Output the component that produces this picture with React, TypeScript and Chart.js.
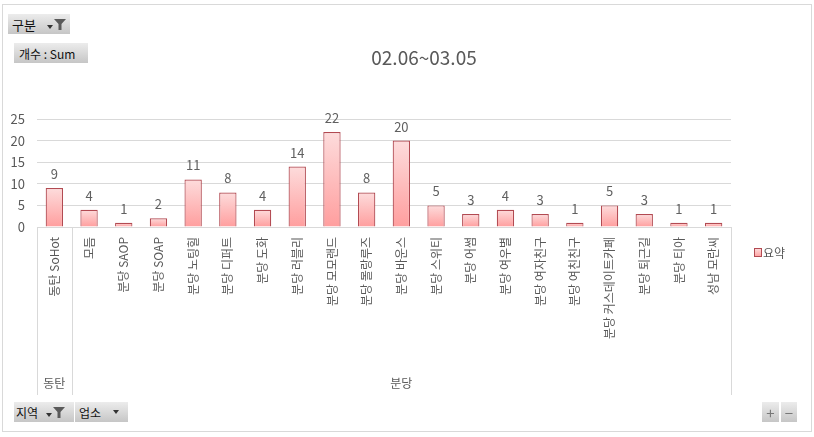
import React, { useEffect, useRef } from "react";
import { Chart, registerables } from "chart.js";

Chart.register(...registerables);

const title = "02.06~03.05";
const categories = [
  "동탄 SoHot", "모듬", "분당 SAOP", "분당 SOAP", "분당 노팅힐", "분당 디퍼트", "분당 도화",
  "분당 러블리", "분당 모모랜드", "분당 몰랑루즈", "분당 바운스", "분당 스위티", "분당 어썸",
  "분당 여우별", "분당 여자친구", "분당 여친친구", "분당 커스데이트카페", "분당 퇴근길", "분당 티아", "성남 모란씨",
];
const values = [9, 4, 1, 2, 11, 8, 4, 14, 22, 8, 20, 5, 3, 4, 3, 1, 5, 3, 1, 1];
const groups = ["동탄", "분당"];
const groupSizes = [1, 19];
const seriesName = "요약";
const yTicks = [0, 5, 10, 15, 20, 25];

const FONT = "'Noto Sans CJK KR', 'Noto Sans', sans-serif";
const TEXT = "#595959";
const GRID = "#d9d9d9";
const BORDER = "#b24a52";

const extras = {
  id: "extras",
  afterDatasetsDraw(chart: any) {
    const { ctx, chartArea } = chart;
    const meta = chart.getDatasetMeta(0);
    ctx.save();
    ctx.fillStyle = "#606060";
    ctx.font = `13px ${FONT}`;
    ctx.textAlign = "center";
    ctx.textBaseline = "alphabetic";
    meta.data.forEach((bar: any, i: number) => {
      ctx.fillText(String(values[i]), bar.x, bar.y - 9);
    });
    // title
    ctx.fillStyle = TEXT;
    ctx.font = `19px ${FONT}`;
    ctx.textBaseline = "middle";
    ctx.fillText(title, 424, 58);
    // group box lines
    const xs = chart.scales.x;
    ctx.strokeStyle = GRID;
    ctx.lineWidth = 1;
    const bounds: number[] = [chartArea.left];
    let idx = 0;
    groupSizes.forEach((n) => {
      idx += n;
      if (idx < categories.length) {
        bounds.push((xs.getPixelForTick(idx - 1) + xs.getPixelForTick(idx)) / 2);
      } else {
        bounds.push(chartArea.right);
      }
    });
    ctx.beginPath();
    bounds.forEach((b) => {
      const x = Math.round(b) + 0.5;
      ctx.moveTo(x, chartArea.bottom);
      ctx.lineTo(x, 395);
    });
    ctx.stroke();
    ctx.font = `12px ${FONT}`;
    ctx.fillStyle = TEXT;
    groups.forEach((g, i) => {
      ctx.fillText(g, (bounds[i] + bounds[i + 1]) / 2, 383);
    });
    // legend
    const lg = ctx.createLinearGradient(0, 249, 0, 257);
    lg.addColorStop(0, "#fdd8d8");
    lg.addColorStop(1, "#ff9f9f");
    ctx.fillStyle = lg;
    ctx.fillRect(754.5, 248.5, 7, 8);
    ctx.strokeStyle = BORDER;
    ctx.strokeRect(754.5, 248.5, 7, 8);
    ctx.fillStyle = TEXT;
    ctx.textAlign = "left";
    ctx.font = `12px ${FONT}`;
    ctx.fillText(seriesName, 763, 253);
    // frame
    ctx.strokeStyle = GRID;
    ctx.strokeRect(2.5, 4.5, 809, 427);
    ctx.restore();
  },
};

function barFill(c: any) {
  const chart = c.chart;
  const y = chart.scales && chart.scales.y;
  if (!chart.chartArea || !y || c.raw === undefined) return "#ffc0c0";
  const top = y.getPixelForValue(c.raw);
  const bottom = y.getPixelForValue(0);
  if (!isFinite(top) || !isFinite(bottom) || bottom - top < 1) return "#ffb0b0";
  const g = chart.ctx.createLinearGradient(0, top, 0, bottom);
  g.addColorStop(0, "#fddcdc");
  g.addColorStop(1, "#ff9e9e");
  return g;
}

const Funnel = () => (
  <svg width="12" height="12" viewBox="0 0 12 12" style={{ display: "block" }}>
    <polygon points="0,1 12,1 7.5,6 7.5,12 4.5,12 4.5,6" fill="#5a5a5a" />
  </svg>
);
const Arrow = () => (
  <svg width="6" height="4" viewBox="0 0 6 4" style={{ display: "block" }}>
    <polygon points="0,0 6,0 3,4" fill="#333" />
  </svg>
);

const btn = (left: number, top: number, width: number, height = 20): React.CSSProperties => ({
  position: "absolute",
  left,
  top,
  width,
  height,
  background: "linear-gradient(#ececec, #c6c6c6)",
  fontFamily: FONT,
  fontSize: 12,
  color: "#111",
  display: "flex",
  alignItems: "center",
  boxSizing: "border-box",
  whiteSpace: "nowrap",
});

export default function App() {
  const ref = useRef<HTMLCanvasElement>(null);
  useEffect(() => {
    document.body.style.margin = "0";
    const chart = new Chart(ref.current!, {
      type: "bar",
      data: {
        labels: categories,
        datasets: [
          {
            label: seriesName,
            data: values,
            backgroundColor: barFill as any,
            borderColor: BORDER,
            borderWidth: 1.2,
            categoryPercentage: 1,
            barPercentage: 0.5,
          },
        ],
      },
      options: {
        responsive: false,
        animation: false,
        layout: { padding: { left: 0, right: 83, top: 119, bottom: 42 } },
        plugins: { legend: { display: false }, title: { display: false }, tooltip: { enabled: false } },
        scales: {
          x: {
            grid: { display: false, drawTicks: false },
            border: { display: false },
            ticks: {
              autoSkip: false,
              minRotation: 90,
              maxRotation: 90,
              padding: 10,
              color: TEXT,
              font: { family: FONT, size: 12 },
            },
            afterFit(s: any) {
              s.height = 168;
            },
          },
          y: {
            min: 0,
            max: 25,
            grid: { color: GRID, drawTicks: false },
            border: { display: false },
            ticks: {
              stepSize: 5,
              padding: 12,
              color: TEXT,
              font: { family: FONT, size: 13 },
              callback: (v: any) => (yTicks.includes(v) ? String(v) : ""),
            },
            afterFit(s: any) {
              s.width = 37;
            },
          },
        },
      },
      plugins: [extras],
    });
    return () => chart.destroy();
  }, []);

  return (
    <div style={{ position: "fixed", left: 0, top: 0, width: 814, height: 437, background: "#fff" }}>
      <canvas ref={ref} width={814} height={437} style={{ position: "absolute", left: 0, top: 0 }} />
      <div style={{ ...btn(8, 14, 62), fontSize: 13, paddingLeft: 4 }}>
        <span>구분</span>
        <span style={{ marginLeft: 11, marginTop: 6 }}><Arrow /></span>
        <span style={{ marginLeft: 1 }}><Funnel /></span>
      </div>
      <div style={{ ...btn(14, 43, 74), paddingLeft: 5 }}>개수 : Sum</div>
      <div style={{ ...btn(14, 402, 60), fontSize: 12, paddingLeft: 2 }}>
        <span>지역</span>
        <span style={{ marginLeft: 8, marginTop: 6 }}><Arrow /></span>
        <span style={{ marginLeft: 1 }}><Funnel /></span>
      </div>
      <div style={{ ...btn(75, 402, 53), paddingLeft: 4 }}>
        <span>업소</span>
        <span style={{ marginLeft: 12 }}><Arrow /></span>
      </div>
      <div style={{ ...btn(762, 402, 17), justifyContent: "center", color: "#777", fontSize: 15 }}>+</div>
      <div style={{ ...btn(781, 402, 16), justifyContent: "center", color: "#777", fontSize: 15 }}>−</div>
    </div>
  );
}
